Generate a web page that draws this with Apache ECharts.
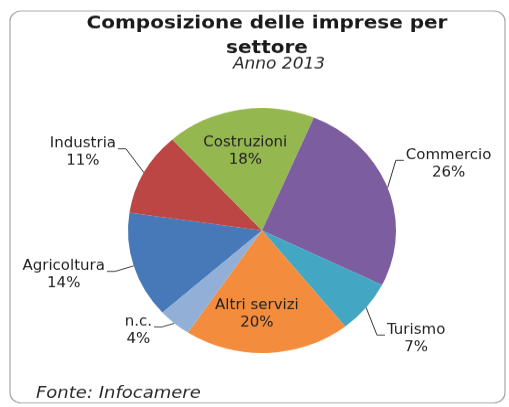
<!DOCTYPE html>
<html>
<head>
<meta charset="utf-8">
<script src="https://cdn.jsdelivr.net/npm/echarts@6/dist/echarts.min.js"></script>
<style>
  html, body { margin: 0; padding: 0; background: #fff; overflow: hidden; }
  /* the chart is drawn slightly taller and flattened to an oval pie */
  #chart { width: 509px; height: 445px; transform: scaleY(0.9146); transform-origin: 0 0; }
</style>
</head>
<body>
<div id="chart"></div>
<script>
// Composizione delle imprese per settore, anno 2013 (quote %)
const settori = ['Agricoltura', 'Industria', 'Costruzioni', 'Commercio', 'Turismo', 'Altri servizi', 'n.c.'];
const quote = [14, 11, 18, 26, 7, 20, 4];
const colori = ['#4779B9', '#BC4644', '#95B750', '#7B5DA0', '#43A7C4', '#F38D3D', '#92AFD8'];
const etichetteInterne = ['Costruzioni', 'Altri servizi'];

// where each label sits relative to its default anchor (chart px)
const spostamenti = [[-70, 10], [-61, -22], [-5, -17], [61, -26], [50, 34], [-8, 22], [-36, 8]];

const chart = echarts.init(document.getElementById('chart'), null, { renderer: 'canvas' });

const testo = { fontFamily: 'DejaVu Sans', color: '#222' };

chart.setOption({
  animation: false,
  title: [
    {
      text: 'Composizione delle imprese per\nsettore',
      left: 267, top: 12.5, textAlign: 'center', padding: 0,
      textStyle: Object.assign({}, testo, { fontWeight: 'bold', fontSize: 20, lineHeight: 27, color: '#1a1a1a' })
    },
    {
      text: 'Anno 2013',
      left: 279, top: 61, textAlign: 'center', padding: 0,
      textStyle: Object.assign({}, testo, { fontStyle: 'italic', fontWeight: 'normal', fontSize: 17, lineHeight: 20, color: '#2a2a2a' })
    },
    {
      text: 'Fonte: Infocamere',
      left: 36, top: 420.5, padding: 0,
      textStyle: Object.assign({}, testo, { fontStyle: 'italic', fontWeight: 'normal', fontSize: 18, lineHeight: 20, color: '#2a2a2a' })
    }
  ],
  graphic: [{
    type: 'rect', z: -10, silent: true,
    shape: { x: 10, y: 12, width: 495, height: 428.5, r: 11 },
    style: { fill: '#fff', stroke: '#a8a8a8', lineWidth: 1.2 }
  }],
  series: [{
    type: 'pie',
    center: [262, 252],
    radius: 134,
    startAngle: 222,
    clockwise: true,
    avoidLabelOverlap: false,
    emphasis: { disabled: true },
    itemStyle: { borderWidth: 0 },
    label: {
      show: true, position: 'outer', formatter: '{b}\n{c}%',
      fontFamily: 'DejaVu Sans', fontSize: 15, lineHeight: 19, color: '#222'
    },
    labelLine: { show: true, length: 8, length2: 8, lineStyle: { color: '#333', width: 1 } },
    labelLayout: function (p) {
      const off = spostamenti[p.dataIndex];
      const pts = p.labelLinePoints;
      const r = p.labelRect;
      const base = pts ? pts[0] : [r.x + r.width / 2, r.y + r.height / 2];
      const cx = base[0] + off[0];
      const cy = base[1] + off[1];
      const out = { x: cx, y: cy, align: 'center', verticalAlign: 'middle' };
      if (pts) {
        const lato = off[0] < 0 ? 1 : -1;
        const ax = cx + lato * (r.width / 2 + 2);
        const ay = cy - 4;
        out.labelLinePoints = [base, [ax + lato * 8, ay], [ax, ay]];
      }
      return out;
    },
    data: settori.map(function (nome, i) {
      const interna = etichetteInterne.indexOf(nome) >= 0;
      const item = { name: nome, value: quote[i], itemStyle: { color: colori[i] } };
      if (interna) {
        item.label = { position: 'inside' };
        item.labelLine = { show: false };
      }
      return item;
    })
  }]
});
</script>
</body>
</html>
